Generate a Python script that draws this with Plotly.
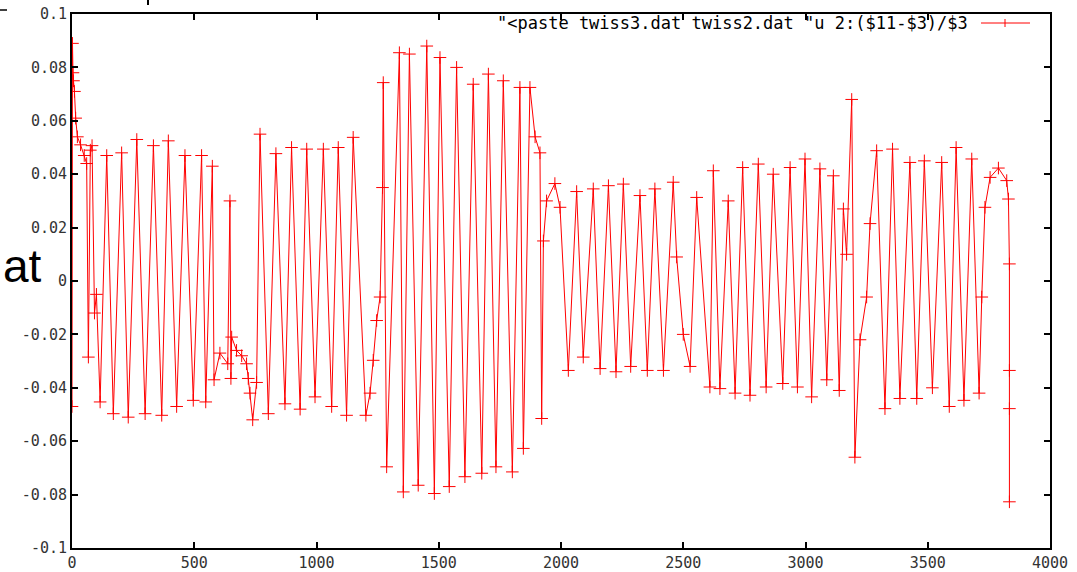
import plotly.graph_objects as go

# Data (peaks/troughs and visible intermediate points)
s_pos = [0, 2, 4, 6, 10, 15, 22, 35, 50, 60, 67, 75, 82, 92, 100, 115,
         142, 169, 203, 230, 265, 299, 333, 367, 394, 428, 462, 496, 530, 547, 574,
         581, 605, 637, 646, 650, 653, 673, 694, 714, 721, 728, 739, 755,
         769, 803, 834, 871, 898, 933, 960, 994, 1028, 1062, 1089, 1123, 1150, 1202,
         1219, 1232, 1246, 1260, 1270, 1273,
         1287, 1339, 1355, 1380, 1416, 1451, 1482, 1505, 1543, 1573, 1607, 1641, 1676,
         1703, 1734, 1764, 1801, 1832, 1846, 1873, 1894, 1914, 1921,
         1928, 1941, 1975, 1996,
         2030, 2064, 2091, 2132, 2160, 2194, 2225, 2255, 2285, 2323, 2353, 2384, 2419, 2459,
         2473, 2500, 2528, 2555, 2609, 2623, 2650, 2684, 2712, 2743, 2773, 2807, 2839,
         2868, 2907, 2937, 2967, 2998, 3025, 3059, 3087, 3114, 3138, 3155, 3168,
         3189, 3202, 3223, 3250, 3264, 3291, 3325, 3356, 3386, 3427, 3455, 3486, 3519,
         3557, 3588, 3616, 3648, 3680, 3710, 3721, 3734, 3755, 3789, 3823, 3830,
         3834, 3834, 3834, 3834]
rel_diff = [-0.047, 0.089, 0.078, 0.075, 0.071, 0.061, 0.054, 0.051, 0.047, 0.044, -0.0285, 0.049, 0.0507, -0.012, -0.005, -0.0453,
            0.047, -0.0497, 0.048, -0.051, 0.053, -0.0497, 0.0507, -0.0503, 0.0525, -0.047, 0.047, -0.0447, 0.047, -0.0453, 0.043,
            -0.037, -0.027, -0.031, 0.030, -0.0365, -0.021, -0.026, -0.028, -0.031, -0.0365, -0.042, -0.052, -0.038,
            0.055, -0.0497, 0.0477, -0.046, 0.050, -0.048, 0.0494, -0.0434, 0.0494, -0.047, 0.050, -0.0503, 0.0538, -0.0503,
            -0.042, -0.0297, -0.0148, -0.006, 0.035, 0.0743,
            -0.0696, 0.0855, -0.079, 0.085, -0.0765, 0.088, -0.0796, 0.0837, -0.077, 0.080, -0.0733, 0.0737, -0.072,
            0.0775, -0.0696, 0.075, -0.0715, 0.0725, -0.0627, 0.0725, 0.054, 0.048, -0.0515,
            0.015, 0.030, 0.0365, 0.0276,
            -0.0335, 0.0335, -0.0285, 0.0345, -0.0328, 0.0357, -0.034, 0.0363, -0.032, 0.032, -0.0335, 0.0345, -0.0335, 0.037,
            0.009, -0.020, -0.032, 0.0313, -0.0397, 0.0413, -0.0403, 0.030, -0.042, 0.0425, -0.0428, 0.0438, -0.0397,
            0.040, -0.0384, 0.0425, -0.0397, 0.0457, -0.0434, 0.042, -0.037, 0.0394, -0.041, 0.027, 0.010,
            0.068, -0.066, -0.022, -0.006, 0.0215, 0.0488, -0.0478, 0.0494, -0.044, 0.0444, -0.044, 0.045, -0.040,
            0.0444, -0.047, 0.050, -0.0447, 0.0457, -0.042, -0.006, 0.0276, 0.0388, 0.0423, 0.0376, 0.0307,
            0.0064, -0.0335, -0.0478, -0.0827]

x_ticks = [0, 500, 1000, 1500, 2000, 2500, 3000, 3500, 4000]
y_ticks = [-0.1, -0.08, -0.06, -0.04, -0.02, 0, 0.02, 0.04, 0.06, 0.08, 0.1]
y_tick_labels = ["-0.1", "-0.08", "-0.06", "-0.04", "-0.02", "0", "0.02", "0.04", "0.06", "0.08", "0.1"]
legend_label = '"<paste twiss3.dat twiss2.dat "u 2:($11-$3)/$3'

RED = "#ff0000"
MONO = "DejaVu Sans Mono"

fig = go.Figure()
fig.add_trace(go.Scatter(
    x=s_pos, y=rel_diff, mode="lines+markers",
    line=dict(color=RED, width=1),
    marker=dict(symbol="cross-thin", size=9, line=dict(color=RED, width=1), color=RED),
    showlegend=False, name=legend_label,
))

L, R, T, B = 72, 27, 14, 24
W, H = 1077, 572
pw, ph = W - L - R, H - T - B

def px(X):
    return (X - L) / pw

def py(Y):
    return (H - B - Y) / ph

axis_common = dict(
    showline=True, linecolor="black", linewidth=2, mirror="ticks",
    ticks="inside", ticklen=6, tickwidth=2, tickcolor="black",
    showgrid=False, zeroline=False,
    tickfont=dict(family=MONO, size=15, color="#333333"),
)

fig.update_layout(
    template="none",
    width=W, height=H,
    margin=dict(l=L, r=R, t=T, b=B, pad=0),
    paper_bgcolor="white", plot_bgcolor="white",
    xaxis=dict(range=[0, 4000], tickvals=x_ticks, automargin=False, **axis_common),
    yaxis=dict(range=[-0.1, 0.1], tickvals=y_ticks, ticktext=y_tick_labels, automargin=False, **axis_common),
    annotations=[
        dict(text=legend_label, xref="paper", yref="paper", x=px(970), y=py(23),
             xanchor="right", yanchor="middle", showarrow=False,
             font=dict(family=MONO, size=17, color="black")),
        dict(text="at", xref="paper", yref="paper", x=px(1), y=py(266),
             xanchor="left", yanchor="middle", showarrow=False,
             font=dict(family="Liberation Sans", size=46, color="black")),
    ],
    shapes=[
        dict(type="line", xref="paper", yref="paper", x0=px(981), x1=px(1030), y0=py(23), y1=py(23),
             line=dict(color=RED, width=1)),
        dict(type="line", xref="paper", yref="paper", x0=px(1005), x1=px(1005), y0=py(19), y1=py(27),
             line=dict(color=RED, width=1)),
        dict(type="line", xref="paper", yref="paper", x0=px(0), x1=px(7), y0=py(10), y1=py(10),
             line=dict(color="black", width=1.5)),
        dict(type="line", xref="paper", yref="paper", x0=px(148), x1=px(148), y0=py(0), y1=py(5),
             line=dict(color="black", width=2)),
    ],
)

fig.write_html("out.html")
